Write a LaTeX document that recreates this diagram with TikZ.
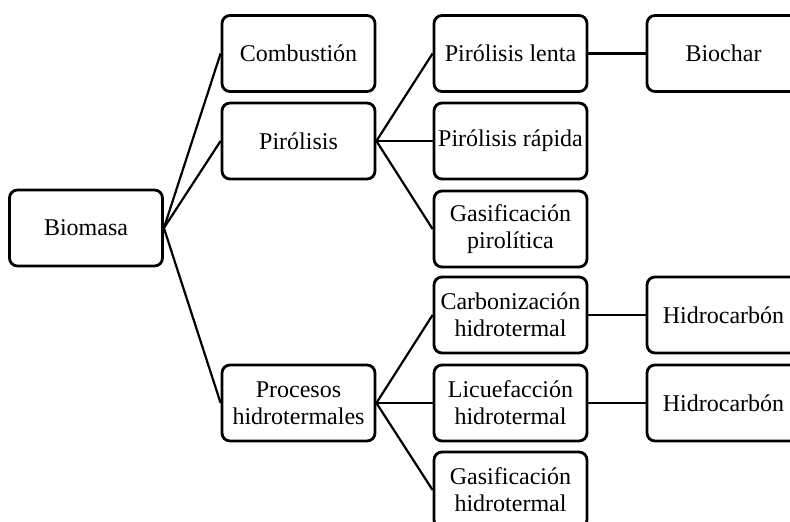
\documentclass[tikz,border=0pt]{standalone}
\usepackage{fontspec}
\setmainfont{Liberation Serif}
\begin{document}
\begin{tikzpicture}[x=1pt,y=-1pt,
  box/.style={draw=black,line width=2.8pt,rounded corners=8pt,minimum width=153pt,minimum height=76pt,inner sep=0pt,align=center,font=\fontsize{24}{27}\selectfont},
  link/.style={line width=2.2pt}]
\useasboundingbox (0,0) rectangle (790,522);
\clip (0,0) rectangle (790,522);
\node[box] (bio) at (86,228) {Biomasa};
\node[box] (comb) at (298.5,53.5) {Combustión};
\node[box] (pir) at (298.5,141) {Pirólisis};
\node[box] (proc) at (298.5,403) {Procesos\\hidrotermales};
\node[box] (pl) at (510.5,53.5) {Pirólisis lenta};
\node[box] (pr) at (510.5,141) {Pirólisis rápida};
\node[box] (gp) at (510.5,229) {Gasificación\\pirolítica};
\node[box] (ch) at (510.5,315) {Carbonización\\hidrotermal};
\node[box] (lh) at (510.5,403) {Licuefacción\\hidrotermal};
\node[box] (gh) at (510.5,490) {Gasificación\\hidrotermal};
\node[box] (bc) at (723.5,53.5) {Biochar};
\node[box] (h1) at (723.5,315) {Hidrocarbón};
\node[box] (h2) at (723.5,403) {Hidrocarbón};
\draw[link] (bio.east) -- (comb.west);
\draw[link] (bio.east) -- (pir.west);
\draw[link] (bio.east) -- (proc.west);
\draw[link] (pir.east) -- (pl.west);
\draw[link] (pir.east) -- (pr.west);
\draw[link] (pir.east) -- (gp.west);
\draw[link] (proc.east) -- (ch.west);
\draw[link] (proc.east) -- (lh.west);
\draw[link] (proc.east) -- (gh.west);
\draw[link] (pl.east) -- (bc.west);
\draw[link] (ch.east) -- (h1.west);
\draw[link] (lh.east) -- (h2.west);
\end{tikzpicture}
\end{document}
